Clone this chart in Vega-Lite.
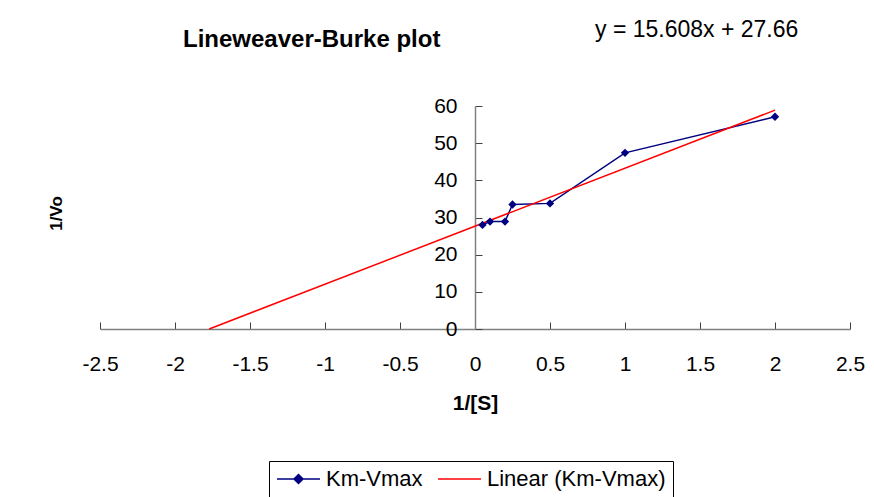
{
  "$schema": "https://vega.github.io/schema/vega-lite/v6.json",
  "width": 750,
  "height": 223,
  "autosize": {"type": "none"},
  "padding": {"left": 100, "top": 106, "right": 24, "bottom": 168},
  "background": "white",
  "title": {
    "text": "Lineweaver-Burke plot",
    "anchor": "start",
    "frame": "group",
    "dx": 83,
    "dy": 37,
    "offset": 4,
    "font": "Liberation Sans",
    "fontSize": 24,
    "fontWeight": "bold",
    "color": "black"
  },
  "config": {
    "view": {"stroke": null},
    "axis": {
      "labelFont": "Liberation Sans",
      "labelFontSize": 21,
      "labelColor": "black",
      "titleFont": "Liberation Sans",
      "titleFontSize": 21,
      "titleFontWeight": "bold",
      "titleColor": "black",
      "domainColor": "#808080",
      "domainWidth": 1.5,
      "tickColor": "#404040",
      "tickWidth": 1,
      "grid": false
    }
  },
  "datasets": {
    "points": [
      {"x": 0.05, "y": 28.0, "series": "Km-Vmax"},
      {"x": 0.1, "y": 28.9, "series": "Km-Vmax"},
      {"x": 0.2, "y": 28.9, "series": "Km-Vmax"},
      {"x": 0.25, "y": 33.5, "series": "Km-Vmax"},
      {"x": 0.5, "y": 33.8, "series": "Km-Vmax"},
      {"x": 1, "y": 47.4, "series": "Km-Vmax"},
      {"x": 2, "y": 57.1, "series": "Km-Vmax"},
      {"x": -1.772, "y": 0, "series": "Linear (Km-Vmax)"},
      {"x": 2, "y": 58.88, "series": "Linear (Km-Vmax)"}
    ],
    "equation": [{"label": "y = 15.608x + 27.66"}]
  },
  "data": {"name": "points"},
  "layer": [
    {
      "mark": {"type": "line", "strokeWidth": 1.5, "clip": false},
      "encoding": {
        "x": {
          "field": "x",
          "type": "quantitative",
          "scale": {"domain": [-2.5, 2.5], "nice": false, "zero": false},
          "axis": {
            "title": "1/[S]",
            "values": [-2.5, -2, -1.5, -1, -0.5, 0, 0.5, 1, 1.5, 2, 2.5],
            "labelExpr": "'' + datum.value",
            "tickSize": -7,
            "labelPadding": 31.5,
            "titleY": 63,
            "titleBaseline": "top",
            "labelFlush": false,
            "labelOverlap": false
          }
        },
        "y": {
          "field": "y",
          "type": "quantitative",
          "scale": {"domain": [0, 60], "nice": false},
          "axis": {
            "title": "1/Vo",
            "titleFontSize": 17,
            "values": [0, 10, 20, 30, 40, 50, 60],
            "tickCount": 7,
            "labelExpr": "'' + datum.value",
            "offset": -375,
            "tickSize": -7,
            "labelPadding": 25,
            "titleX": -410,
            "titleY": 107,
            "titleAngle": -90,
            "titleAlign": "center",
            "titleBaseline": "bottom",
            "labelOverlap": false
          }
        },
        "color": {
          "field": "series",
          "type": "nominal",
          "scale": {"domain": ["Km-Vmax", "Linear (Km-Vmax)"], "range": ["#000080", "#FF0000"]},
          "legend": {
            "title": null,
            "orient": "none",
            "direction": "horizontal",
            "legendX": 169,
            "legendY": 355,
            "strokeColor": "black",
            "fillColor": "white",
            "padding": 7,
            "labelFont": "Liberation Sans",
            "labelFontSize": 22,
            "labelColor": "black",
            "labelLimit": 400,
            "labelOffset": 16.5,
            "symbolOffset": 11.5,
            "columnPadding": 12,
            "symbolSize": 400,
            "symbolStrokeWidth": 1.5,
            "encode": {
              "symbols": {
                "update": {
                  "shape": {"signal": "datum.value === 'Km-Vmax' ? 'M-2.15,0H2.15M0,-0.45L0.45,0L0,0.45L-0.45,0Z' : 'M-2.15,0H2.15'"},
                  "fill": {"signal": "datum.value === 'Km-Vmax' ? '#000080' : 'transparent'"},
                  "fillOpacity": {"value": 1}
                }
              }
            }
          }
        }
      }
    },
    {
      "transform": [{"filter": "datum.series === 'Km-Vmax'"}],
      "mark": {"type": "point", "shape": "diamond", "filled": true, "size": 70, "color": "#000080", "opacity": 1},
      "encoding": {
        "x": {"field": "x", "type": "quantitative"},
        "y": {"field": "y", "type": "quantitative"}
      }
    },
    {
      "data": {"name": "equation"},
      "mark": {"type": "text", "align": "left", "baseline": "alphabetic", "font": "Liberation Sans", "fontSize": 23, "color": "black", "clip": false},
      "encoding": {
        "x": {"datum": 0.8, "type": "quantitative", "axis": {"values": [-2.5, -2, -1.5, -1, -0.5, 0, 0.5, 1, 1.5, 2, 2.5]}},
        "y": {"datum": 78.6, "type": "quantitative", "axis": {"values": [0, 10, 20, 30, 40, 50, 60], "tickCount": 7}},
        "text": {"field": "label"}
      }
    }
  ]
}
